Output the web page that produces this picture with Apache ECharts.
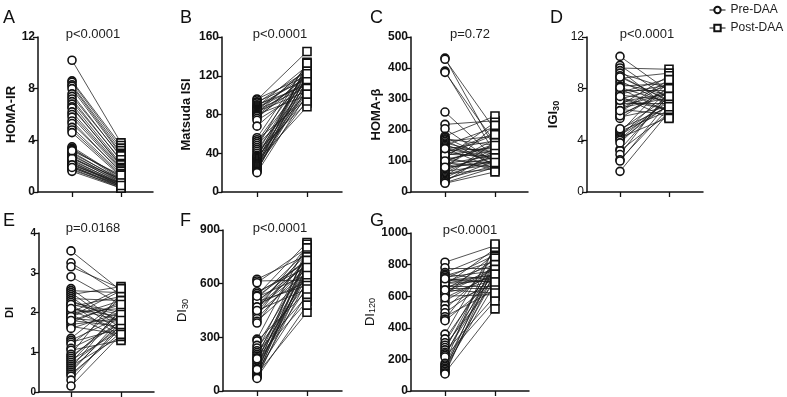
<!DOCTYPE html>
<html>
<head>
<meta charset="utf-8">
<script src="https://cdn.jsdelivr.net/npm/echarts@6/dist/echarts.min.js"></script>
<style>
  html, body { margin: 0; padding: 0; background: #fff; }
  #chart { width: 787px; height: 397px; }
</style>
</head>
<body>
<div id="chart"></div>
<script>
const FONT = "Liberation Sans, Arial, sans-serif";

// one entry per patient, pre and post paired by index
const homaIrPre = [10.2, 8.6, 8.5, 8.3, 8.2, 8.0, 7.6, 7.4, 7.2, 7.0, 6.8, 6.6, 6.5, 6.2, 6.0, 5.8, 5.5, 5.3, 5.0, 4.8, 4.6, 3.5, 3.4, 3.3, 3.1, 3.0, 2.9, 2.8, 2.7, 2.6, 2.5, 2.4, 2.3, 2.3, 2.2, 2.1, 2.0, 2.0, 1.9, 1.8, 1.7, 1.6, 2.6, 3.2, 2.1, 1.9];
const homaIrPost = [3.8, 3.6, 3.4, 3.2, 3.0, 2.9, 2.7, 2.8, 2.4, 2.5, 2.2, 2.0, 2.1, 1.9, 1.8, 1.7, 1.5, 1.6, 1.4, 1.3, 1.2, 1.1, 1.0, 1.2, 0.9, 1.0, 0.8, 0.9, 0.7, 0.8, 0.6, 0.7, 0.6, 0.5, 0.5, 0.6, 0.4, 0.5, 0.4, 0.3, 0.4, 0.3, 1.0, 1.3, 0.7, 0.5];

const matsudaPre = [96, 95, 93, 92, 90, 89, 88, 87, 86, 85, 84, 83, 82, 81, 80, 79, 78, 76, 74, 68, 56, 54, 52, 50, 48, 46, 44, 42, 40, 38, 37, 36, 35, 34, 33, 32, 31, 30, 29, 28, 27, 26, 25, 24, 23, 22, 21, 20];
const matsudaPost = [120, 145, 116, 125, 110, 118, 130, 112, 122, 108, 126, 104, 115, 128, 100, 119, 114, 121, 106, 113, 132, 96, 124, 117, 102, 134, 111, 92, 127, 109, 123, 98, 129, 105, 118, 88, 131, 114, 103, 126, 94, 120, 110, 133, 107, 116, 122, 101];

const homaBetaPre = [432, 428, 390, 386, 258, 218, 204, 180, 176, 172, 168, 163, 158, 154, 150, 146, 142, 138, 134, 130, 126, 122, 118, 114, 110, 106, 102, 98, 94, 90, 86, 82, 78, 74, 70, 66, 62, 58, 54, 50, 46, 42, 38, 34, 30, 28, 120, 140, 100, 80];
const homaBetaPost = [140, 200, 125, 160, 110, 230, 95, 245, 100, 150, 85, 180, 120, 90, 210, 130, 75, 165, 140, 105, 190, 115, 145, 70, 225, 135, 95, 155, 80, 120, 170, 110, 100, 215, 130, 90, 140, 75, 105, 160, 120, 85, 100, 130, 80, 65, 185, 110, 150, 95];

const igi30Pre = [10.5, 9.8, 9.6, 9.4, 9.2, 9.0, 8.8, 8.6, 8.4, 8.2, 8.0, 7.9, 7.7, 7.5, 7.3, 7.2, 7.0, 6.9, 6.7, 6.5, 6.4, 6.2, 6.0, 5.8, 5.7, 4.8, 4.7, 4.6, 4.5, 4.4, 4.3, 4.2, 4.1, 4.0, 3.3, 3.2, 2.9, 2.5, 2.4, 1.6, 7.6, 8.1, 6.6, 5.9, 7.1, 8.9, 6.3, 7.4, 4.9, 3.8];
const igi30Post = [7.8, 7.2, 9.5, 6.5, 8.0, 7.0, 9.2, 6.8, 7.5, 8.4, 6.2, 7.9, 8.8, 7.1, 6.4, 8.2, 7.6, 6.9, 9.0, 7.3, 6.0, 8.5, 7.7, 6.6, 8.1, 7.4, 6.3, 8.6, 7.0, 6.7, 7.9, 5.8, 7.2, 6.8, 7.5, 6.1, 7.8, 6.5, 7.0, 6.2, 8.3, 6.9, 7.7, 8.0, 6.4, 7.1, 8.7, 5.7, 6.6, 7.4];

const diPre = [3.55, 3.25, 3.15, 2.9, 2.6, 2.55, 2.5, 2.45, 2.4, 2.35, 2.3, 2.25, 2.2, 2.15, 2.1, 2.05, 2.0, 1.95, 1.9, 1.85, 1.8, 1.75, 1.7, 1.65, 1.6, 1.35, 1.3, 1.25, 1.2, 1.1, 1.05, 0.95, 0.9, 0.85, 0.8, 0.75, 0.7, 0.65, 0.6, 0.55, 0.5, 0.45, 0.4, 0.3, 0.15, 2.0, 2.2, 1.9, 2.1, 1.8];
const diPost = [2.55, 2.45, 2.6, 2.2, 1.7, 2.5, 1.6, 2.65, 1.5, 2.3, 1.8, 2.0, 1.4, 2.4, 1.9, 1.55, 2.1, 1.35, 2.55, 1.75, 1.65, 2.25, 1.85, 1.45, 2.0, 2.35, 1.9, 1.6, 2.15, 1.7, 1.3, 2.5, 1.8, 1.95, 1.55, 2.05, 1.65, 1.4, 2.1, 1.75, 1.85, 1.5, 1.6, 1.7, 1.45, 2.6, 1.95, 2.3, 1.8, 2.2];

const di30Pre = [625, 615, 605, 555, 545, 535, 525, 515, 505, 495, 485, 475, 465, 455, 445, 435, 420, 405, 390, 380, 290, 280, 255, 240, 225, 215, 205, 195, 185, 175, 165, 155, 145, 135, 125, 115, 110, 100, 95, 90, 85, 80, 75, 70, 500, 470, 530, 450, 180, 120];
const di30Post = [760, 620, 800, 690, 720, 830, 650, 780, 700, 740, 610, 770, 680, 810, 730, 660, 790, 700, 640, 750, 820, 560, 710, 600, 770, 530, 690, 740, 500, 660, 780, 580, 720, 640, 800, 680, 540, 760, 440, 700, 620, 750, 480, 670, 590, 710, 730, 570, 650, 690];

const di120Pre = [815, 780, 750, 740, 730, 720, 710, 700, 690, 680, 670, 660, 650, 640, 630, 620, 610, 600, 570, 545, 520, 495, 470, 455, 445, 360, 330, 305, 290, 275, 260, 245, 235, 225, 215, 175, 165, 155, 145, 135, 125, 115, 108, 700, 660, 620, 680, 640, 590, 710];
const di120Post = [920, 780, 880, 700, 820, 760, 860, 690, 800, 740, 900, 720, 650, 830, 780, 700, 870, 610, 750, 680, 800, 720, 640, 860, 700, 910, 780, 830, 690, 760, 850, 600, 740, 810, 570, 930, 790, 720, 680, 840, 750, 520, 800, 730, 660, 770, 700, 620, 740, 690];

const letters = ["A", "B", "C", "D", "E", "F", "G"];
const yNames = ["HOMA-IR", "Matsuda ISI", "HOMA-\u03b2", "IGI{s|30}", "DI", "DI{s|30}", "DI{s|120}"];
const pTexts = ["p<0.0001", "p<0.0001", "p=0.72", "p<0.0001", "p=0.0168", "p<0.0001", "p<0.0001"];
const yMax = [12, 160, 500, 12, 4, 900, 1000];
const yStep = [4, 40, 100, 4, 1, 300, 200];
const preValues = [homaIrPre, matsudaPre, homaBetaPre, igi30Pre, diPre, di30Pre, di120Pre];
const postValues = [homaIrPost, matsudaPost, homaBetaPost, igi30Post, diPost, di30Post, di120Post];

// layout in px: grid box, x of the pre / post columns
const boxes = [
  { left: 38, top: 37, width: 115, height: 155, pre: 72, post: 121, gap: 17, boldTicks: true, boldName: true, tickSize: 12, nameSize: 13 },
  { left: 222, top: 37, width: 120, height: 155, pre: 257, post: 307, gap: 29, boldTicks: true, boldName: true, tickSize: 12, nameSize: 13 },
  { left: 411, top: 37, width: 117, height: 155, pre: 445, post: 495, gap: 28, boldTicks: true, boldName: true, tickSize: 12, nameSize: 13 },
  { left: 587, top: 37, width: 116, height: 155, pre: 620, post: 669, gap: 26, boldTicks: false, boldName: true, tickSize: 12, nameSize: 13 },
  { left: 39, top: 233, width: 115, height: 159, pre: 71, post: 121, gap: 24, boldTicks: true, boldName: true, tickSize: 10, nameSize: 11 },
  { left: 223, top: 230, width: 119, height: 162, pre: 257, post: 307, gap: 33, boldTicks: true, boldName: false, tickSize: 12, nameSize: 13 },
  { left: 411, top: 233, width: 118, height: 159, pre: 445, post: 495, gap: 33, boldTicks: true, boldName: false, tickSize: 12, nameSize: 13 },
];
const letterPos = [[3, 9], [180, 9], [370, 9], [550, 9], [3, 212], [180, 212], [370, 212]];
const pPos = [[93, 34], [280, 34], [470, 34], [647, 34], [93, 228], [280, 228], [470, 230]];

const chart = echarts.init(document.getElementById("chart"), null, { renderer: "canvas" });

const grid = [], xAxis = [], yAxis = [], series = [];
boxes.forEach((b, i) => {
  const unit = b.post - b.pre;
  const xMin = 1 - (b.pre - b.left) / unit;
  grid.push({ left: b.left, top: b.top, width: b.width, height: b.height, containLabel: false });
  xAxis.push({
    type: "value", gridIndex: i, min: xMin, max: xMin + b.width / unit,
    axisLine: { lineStyle: { color: "#111", width: 1.5 } },
    axisTick: { show: true, length: 5, lineStyle: { color: "#111", width: 1.3 }, customValues: [1, 2] },
    axisLabel: { show: false }, splitLine: { show: false },
  });
  yAxis.push({
    type: "value", gridIndex: i, min: 0, max: yMax[i], interval: yStep[i],
    name: yNames[i], nameLocation: "middle", nameGap: b.gap,
    nameTextStyle: {
      fontFamily: FONT, fontSize: b.nameSize, fontWeight: b.boldName ? "bold" : "normal", color: "#111",
      rich: { s: { fontFamily: FONT, fontSize: b.nameSize * 0.7, fontWeight: b.boldName ? "bold" : "normal", color: "#111", verticalAlign: "bottom", padding: [b.nameSize * 0.45, 0, 0, 0] } },
    },
    axisLine: { show: true, lineStyle: { color: "#111", width: 1.5 } },
    axisTick: { show: true, length: 5, lineStyle: { color: "#111", width: 1.3 } },
    axisLabel: { fontFamily: FONT, fontSize: b.tickSize, fontWeight: b.boldTicks ? "bold" : "normal", color: "#111", margin: 3, formatter: (v) => String(v) },
    splitLine: { show: false },
  });
  const pre = preValues[i], post = postValues[i];
  series.push({
    type: "lines", coordinateSystem: "cartesian2d", xAxisIndex: i, yAxisIndex: i,
    data: pre.map((v, j) => ({ coords: [[1, v], [2, post[j]]] })),
    lineStyle: { color: "#1a1a1a", width: 0.8, opacity: 0.95 }, silent: true, z: 1,
  });
  series.push({
    name: "Pre-DAA", type: "line", xAxisIndex: i, yAxisIndex: i,
    data: pre.map((v) => [1, v]), symbol: "circle", symbolSize: 8, showAllSymbol: true,
    lineStyle: { opacity: 0 }, itemStyle: { color: "#fff", borderColor: "#111", borderWidth: 1.6 }, z: 3, animation: false,
  });
  series.push({
    name: "Post-DAA", type: "line", xAxisIndex: i, yAxisIndex: i,
    data: post.map((v) => [2, v]), symbol: "rect", symbolSize: 8, showAllSymbol: true,
    lineStyle: { opacity: 0 }, itemStyle: { color: "#fff", borderColor: "#111", borderWidth: 1.6 }, z: 3, animation: false,
  });
});

const graphic = [];
letters.forEach((t, i) => {
  graphic.push({ type: "text", x: letterPos[i][0], y: letterPos[i][1], style: { text: t, fontFamily: FONT, fontSize: 18, fill: "#111" } });
  graphic.push({ type: "text", x: pPos[i][0], y: pPos[i][1], style: { text: pTexts[i], fontFamily: FONT, fontSize: 13, fill: "#222", textAlign: "center", textVerticalAlign: "middle" } });
});

chart.setOption({
  animation: false,
  backgroundColor: "#fff",
  grid, xAxis, yAxis, series, graphic,
  legend: {
    data: ["Pre-DAA", "Post-DAA"], orient: "vertical", left: 709, top: 4, padding: 0,
    itemWidth: 16, itemHeight: 8, itemGap: 6,
    textStyle: { fontFamily: FONT, fontSize: 12, color: "#222" },
    lineStyle: { color: "#111", width: 1, opacity: 1 },
  },
});
</script>
</body>
</html>
